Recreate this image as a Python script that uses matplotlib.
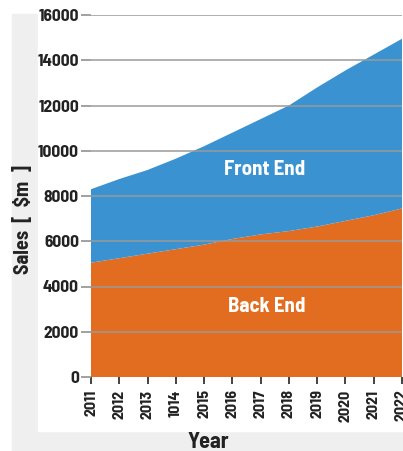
import matplotlib
matplotlib.use('Agg')
import matplotlib.pyplot as plt
from matplotlib.patches import Rectangle

years = [2011, 2012, 2013, 2014, 2015, 2016, 2017, 2018, 2019, 2020, 2021, 2022]
year_labels = ['2011', '2012', '2013', '1014', '2015', '2016', '2017', '2018',
               '2019', '2020', '2021', '2022']
back_end = [5050, 5250, 5450, 5650, 5850, 6100, 6300, 6450, 6650, 6900, 7150, 7450]
total = [8300, 8750, 9150, 9650, 10200, 10800, 11400, 12000, 12800, 13550, 14250, 14950]
front_end = [t - b for t, b in zip(total, back_end)]

font = ['Barlow Semi Condensed', 'Barlow Condensed', 'DejaVu Sans']
orange = '#e26c1f'
blue = '#3a93d0'
dark = '#222222'

W, H = 403, 451
fig = plt.figure(figsize=(W / 100, H / 100), dpi=100)

# gray frame with white panel
fig.patches.append(Rectangle((12 / W, 0), 1, 1 - 14 / H, transform=fig.transFigure,
                             color='#efefef', zorder=-2))
fig.patches.append(Rectangle((38 / W, 20 / H), 1, 1, transform=fig.transFigure,
                             color='white', zorder=-1))

ax = fig.add_axes([91 / W, (H - 377) / H, (402 - 91) / W, (377 - 15) / H])
ax.patch.set_alpha(0)
ax.stackplot(years, back_end, front_end, colors=[orange, blue], linewidth=0, zorder=1)

ax.set_xlim(2011, 2022)
ax.set_ylim(0, 16000)
ax.set_yticks(range(0, 16001, 2000))
ax.set_xticks(years)
ax.set_xticklabels(year_labels, rotation=90, family=font, fontweight='bold',
                   fontsize=11.5, color=dark)
ax.set_yticklabels([str(v) for v in range(0, 16001, 2000)], family=font,
                   fontweight='bold', fontsize=12.5, color=dark)

for v in range(2000, 16001, 2000):
    ax.axhline(v, color='#9a9a9a', lw=1.3, alpha=0.85, zorder=2)

for s in ax.spines.values():
    s.set_visible(False)
ax.tick_params(axis='y', length=7.2, width=1.3, color='#9a9a9a', pad=1.5)
ax.tick_params(axis='x', length=5, width=1.2, color=dark, pad=4)

ax.text(2017.15, 9150, 'Front End', color='white', family=font,
        fontweight='bold', fontsize=15, ha='center', va='center', zorder=3)
ax.text(2017.2, 3100, 'Back End', color='white', family=font,
        fontweight='bold', fontsize=15, ha='center', va='center', zorder=3)

fig.text(23 / W, 1 - 219 / H, 'Sales  [  $m  ]', rotation=90, family=font,
         fontweight='bold', fontsize=14.5, color=dark, ha='center', va='center')
fig.text(208 / W, 1 - 442 / H, 'Year', family=font, fontweight='bold',
         fontsize=16, color=dark, ha='center', va='center')

fig.savefig('out.png', dpi=100)
